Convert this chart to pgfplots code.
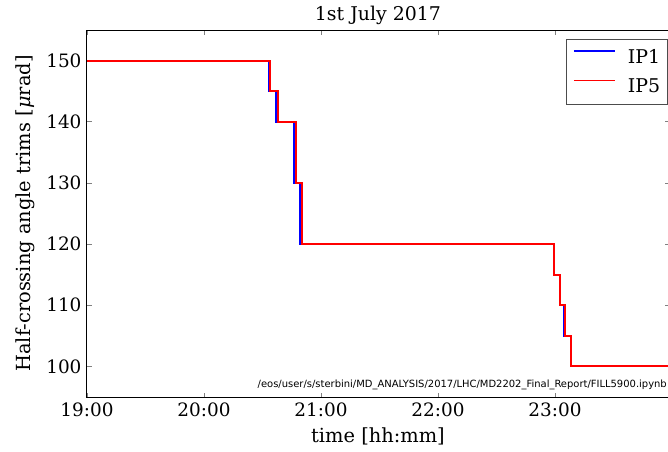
\documentclass[border=0pt]{standalone}
\usepackage{fontspec}
\setmainfont{DejaVu Serif}
\newfontfamily\pathfont{DejaVu Sans}
\usepackage{pgfplots}
\pgfplotsset{compat=1.18}
\usetikzlibrary{calc}
\begin{document}
\begin{tikzpicture}
\begin{axis}[name=ax, scale only axis, width=582bp, height=367bp,
  xmin=19, xmax=23.975, ymin=95, ymax=155,
  xtick={19,20,21,22,23}, xticklabels={19:00,20:00,21:00,22:00,23:00},
  ytick={100,110,120,130,140,150},
  tick align=inside, tick pos=both, major tick length=4.5bp,
  minor tick num=0,
  axis line style={line width=1bp, black},
  major tick style={line width=0.8bp},
  /pgf/number format/assume math mode=true,
  tick label style={font=\fontsize{18.5}{20}\selectfont},
  xticklabel style={yshift=-2bp},
  yticklabel style={xshift=-2bp},
  label style={font=\fontsize{19.5}{22}\selectfont},
  xlabel={time [hh:mm]},
  ylabel={Half-crossing angle trims [\textit{μ}rad]},
  xlabel style={yshift=-4bp},
  ylabel style={yshift=5bp},
  title={1st July 2017},
  title style={font=\fontsize{19}{21}\selectfont, yshift=-4bp},
  legend style={at={(1,1)}, anchor=north east, xshift=-1.5bp, yshift=-9bp,
    draw=black!70, line width=0.8bp,
    font=\fontsize{19}{21}\selectfont,
    row sep=14bp, column sep=13bp, inner xsep=7bp, inner ysep=10bp,
    nodes={inner xsep=0bp, inner ysep=0bp}},
  legend cell align=left,
]
\addlegendimage{legend image code/.code={\node[inner sep=0pt, anchor=west] at (0bp,5.5bp) {\textcolor{blue}{\rule{41bp}{1.6bp}}};}}
\addlegendentry{IP1\hspace{22bp}}
\addlegendimage{legend image code/.code={\node[inner sep=0pt, anchor=west] at (0bp,5.5bp) {\textcolor{red}{\rule{41bp}{1.6bp}}};}}
\addlegendentry{IP5\hspace{22bp}}
\addplot[forget plot, blue, line width=2bp] coordinates {
(19,150) (20.556,150) (20.556,145) (20.615,145) (20.615,140) (20.769,140)
(20.769,130) (20.821,130) (20.821,120) (22.988,120) (22.988,115) (23.040,115)
(23.040,110) (23.080,110) (23.080,105) (23.136,105) (23.136,100) (23.975,100)};
\addplot[forget plot, red, line width=2bp] coordinates {
(19,150) (20.564,150) (20.564,145) (20.632,145) (20.632,140) (20.784,140)
(20.784,130) (20.838,130) (20.838,120) (22.991,120) (22.991,115) (23.043,115)
(23.043,110) (23.083,110) (23.083,105) (23.139,105) (23.139,100) (23.975,100)};
\node[anchor=base east, font=\pathfont\fontsize{10}{12}\selectfont, inner sep=0pt]
  at (rel axis cs:1,0) [xshift=-2bp, yshift=10bp] {/eos/user/s/sterbini/MD\_ANALYSIS/2017/LHC/MD2202\_Final\_Report/FILL5900.ipynb};
\end{axis}
\pgfresetboundingbox
\path[use as bounding box] ($(ax.south west)+(-87bp,-55bp)$) rectangle ($(ax.north east)+(-1bp,30bp)$);
\end{tikzpicture}
\end{document}
